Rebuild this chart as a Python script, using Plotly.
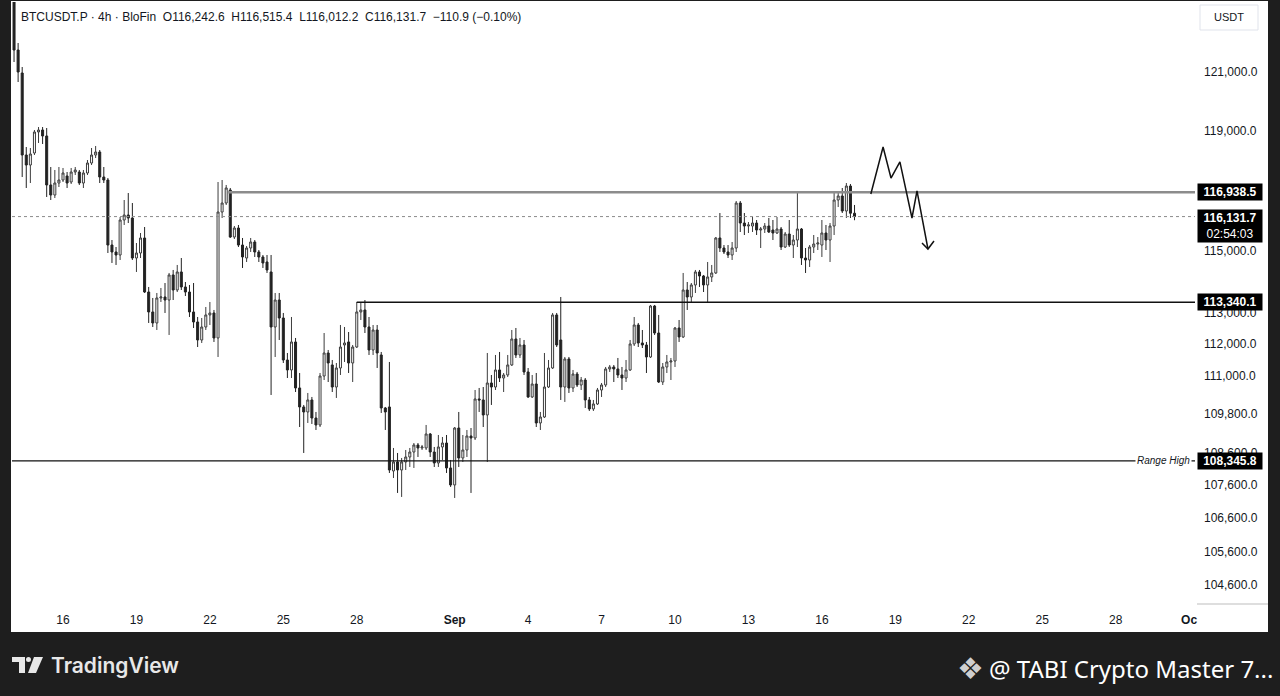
import math
import pandas as pd
import plotly.graph_objects as go

# ---------------- data ----------------
start_time = "2025-08-14 00:00"   # first visible 4h candle

opens = [123700, 121758, 120966, 118181, 117846, 118248, 118956, 119023, 118821, 117179,
         116846, 117245, 117345, 117479, 117278, 117612, 117612, 117245, 117579, 117913,
         118181, 118282, 117445, 117345, 115198, 114970, 114872, 116019, 116184, 116085,
         114774, 114937, 115428, 113671, 113028, 112675, 113478, 113510, 113413, 114222,
         113736, 114319, 113833, 113671, 113028, 112707, 112132, 112547, 112932, 112996,
         112196, 116283, 116581, 117012, 115460, 115756, 115198, 114774, 115100, 115297,
         114970, 114807, 114644, 114319, 112547, 113413, 112835, 111497, 111181, 112069,
         110614, 110019, 109863, 110238, 109675, 109458, 110991, 111719, 111339, 110645,
         111244, 111973, 112069, 111402, 111909, 113028, 113092, 112547, 111814, 112451,
         111656, 109988, 110019, 108037, 108314, 108068, 108314, 108467, 108621, 108838,
         108745, 108745, 109178, 108621, 108283, 108776, 108899, 108129, 107609, 109364,
         108437, 108683, 109116, 109054, 110269, 110238, 109769, 110771, 110645, 111181,
         110928, 111023, 111339, 112164, 111656, 111973, 111118, 110332, 110739, 109520,
         109706, 110645, 111244, 112932, 112132, 110645, 111529, 110614, 111054, 110708,
         110865, 110238, 109957, 110113, 110551, 110708, 111213, 111276, 111213, 111023,
         110928, 111181, 112005, 112611, 112037, 111973, 111592, 113220, 112355, 110802,
         111276, 111434, 111465, 112515, 112228, 113736, 113510, 113898, 114319, 114189,
         113898, 114157, 114287, 115428, 115100, 114970, 114872, 115100, 116581, 115920,
         115822, 115822, 115920, 115690, 115723, 115822, 115690, 115592, 115723, 115133,
         115559, 115198, 115362, 115723, 114774, 114709, 115133, 115231, 115198, 115592,
         115362, 115822, 116680, 116813, 116316, 117145, 116242.6]

highs = [124100, 122001, 121172, 118450, 118416, 119023, 119124, 119124, 119091, 117779,
         117679, 117779, 117746, 117612, 117746, 117779, 117679, 117679, 118013, 118416,
         118484, 118349, 117779, 117412, 115362, 115133, 116118, 116680, 116912, 116581,
         115264, 115592, 115789, 113833, 113478, 113639, 113801, 113962, 114287, 114384,
         114547, 114774, 113994, 113898, 113962, 112867, 112835, 113188, 113349, 113092,
         117278, 117345, 117179, 117079, 115822, 115855, 115428, 115166, 115428, 115362,
         115035, 114872, 114872, 114872, 113639, 113639, 112996, 111719, 112867, 112196,
         111086, 110082, 110457, 110332, 109863, 111086, 112355, 111814, 111497, 111402,
         112611, 112547, 112387, 111973, 113349, 113317, 113413, 112867, 112611, 112611,
         111751, 110019, 111434, 108745, 108591, 108437, 108683, 108745, 108899, 108899,
         108838, 109458, 109209, 108776, 109147, 109085, 109147, 108375, 109395, 109863,
         109147, 109302, 109364, 110551, 110614, 110645, 111719, 111023, 111656, 111751,
         111086, 111656, 112451, 112515, 112196, 112132, 111244, 111023, 111086, 109863,
         111719, 111497, 112996, 112996, 113510, 111592, 111592, 111181, 111118, 110960,
         110928, 110332, 110238, 110614, 110771, 111276, 111339, 111339, 111561, 111276,
         111497, 112132, 112867, 112675, 112451, 112069, 113253, 113253, 112932, 111402,
         111656, 111561, 112547, 112771, 114287, 113994, 113962, 114384, 114384, 114222,
         114644, 114547, 115460, 116250, 115198, 115198, 115297, 116647, 116647, 116250,
         115953, 116118, 116019, 115789, 115920, 116085, 116019, 116118, 115789, 115625,
         116019, 115526, 116912, 115756, 115100, 115198, 115526, 115460, 116019, 115855,
         115920, 116912, 116946, 117079, 117245, 117212, 116515.4]

lows = [121344, 120657, 117445, 117079, 117245, 118181, 118585, 118551, 116780, 116680,
        116746, 117112, 117278, 117079, 117212, 117512, 117179, 117079, 117512, 117846,
        118080, 117245, 117245, 114937, 114612, 114547, 114709, 115855, 115920, 114709,
        114319, 114774, 113639, 112675, 112547, 112451, 113349, 112996, 112292, 113413,
        113671, 113736, 113542, 112867, 112515, 111909, 112037, 112451, 112611, 112069,
        111592, 116085, 116515, 115428, 115395, 115133, 114449, 114644, 114970, 114807,
        114644, 114449, 114287, 110394, 111592, 112132, 111402, 110928, 110928, 110488,
        109395, 108591, 109520, 109489, 109302, 109395, 110865, 110802, 110488, 110301,
        111023, 111434, 111086, 110802, 111877, 112771, 112355, 111656, 111656, 111244,
        109832, 109302, 107976, 107822, 107365, 107243, 108068, 108160, 108129, 108467,
        108683, 108683, 108467, 108160, 108160, 108375, 107976, 107548, 107212, 108160,
        108314, 108467, 107365, 108992, 109863, 109395, 108314, 110082, 110551, 110802,
        110488, 110960, 111307, 111561, 111561, 111023, 110301, 110301, 109395, 109302,
        109675, 110614, 111213, 111909, 110238, 110176, 110457, 110488, 110645, 110551,
        109988, 109894, 109894, 110082, 110332, 110645, 111118, 110802, 110928, 110551,
        110802, 111149, 111941, 111909, 111877, 111086, 111561, 112292, 110771, 110708,
        111086, 110865, 111276, 112069, 112196, 113092, 113349, 113639, 113833, 113671,
        113349, 113994, 114254, 114970, 114904, 114774, 114709, 114970, 115625, 115526,
        115592, 115625, 115526, 115100, 115592, 115592, 115362, 115559, 115035, 115100,
        115133, 114774, 115133, 114547, 114287, 114482, 114937, 115035, 114807, 115035,
        114644, 115526, 116448, 116250, 116085, 116085, 116012.2]

closes = [121758, 121000, 118181, 117846, 118215, 118956, 119023, 118821, 117179, 116846,
          117245, 117345, 117579, 117245, 117612, 117679, 117245, 117579, 117913, 118181,
          118282, 117445, 117345, 115198, 114970, 114872, 116019, 116184, 116085, 114774,
          114937, 115428, 113671, 113028, 112675, 113478, 113510, 113413, 114222, 113736,
          114319, 113833, 113671, 113028, 112707, 112132, 112547, 112932, 112996, 112196,
          116283, 116581, 117079, 115460, 115756, 115198, 114807, 115100, 115297, 114970,
          114807, 114612, 114384, 112547, 113413, 112835, 111497, 111181, 112069, 110614,
          110019, 109863, 110238, 109675, 109458, 110991, 111719, 111402, 110645, 111244,
          111909, 112037, 111402, 111909, 113028, 113092, 112547, 111814, 112451, 111719,
          109988, 109863, 108068, 108314, 108068, 108314, 108467, 108621, 108838, 108745,
          108776, 109178, 108621, 108283, 108776, 108899, 108129, 107609, 109364, 108437,
          108683, 109116, 109054, 110269, 110238, 109769, 110771, 110645, 111181, 110928,
          111023, 111339, 112164, 111656, 111973, 111118, 110332, 110739, 109520, 109706,
          110645, 111244, 112932, 111973, 110645, 111529, 110614, 111054, 110708, 110865,
          110238, 109957, 110113, 110551, 110708, 111213, 111276, 111213, 111023, 110928,
          111181, 112005, 112611, 112037, 111973, 111592, 113220, 112355, 110802, 111276,
          111434, 111465, 112515, 112228, 113736, 113510, 113898, 114319, 114189, 113898,
          114157, 114287, 115428, 115100, 114970, 114872, 115100, 116581, 115920, 115822,
          115855, 115920, 115690, 115723, 115822, 115625, 115592, 115723, 115133, 115559,
          115198, 115362, 115723, 114774, 114709, 115133, 115231, 115264, 115592, 115362,
          115822, 116680, 116813, 116316, 117145, 116242.6, 116131.7]

times = pd.date_range(start_time, periods=len(opens), freq="4h")

# horizontal levels
resistance_level = 116938.5
resistance_start = "2025-08-22 18:00"
support_level = 113340.1
support_start = "2025-08-28 00:00"
range_high_level = 108345.8
last_price = 116131.7
countdown = "02:54:03"

# hand-drawn projection path
forecast_times = ["2025-09-18 00:00", "2025-09-18 12:00", "2025-09-18 19:45", "2025-09-19 04:30",
                  "2025-09-19 16:20", "2025-09-19 21:15", "2025-09-20 08:00"]
forecast_prices = [116880, 118450, 117410, 117950, 116085, 116980, 115068]
arrow_times = ["2025-09-20 02:10", "2025-09-20 08:00", "2025-09-20 13:55"]
arrow_prices = [115264, 115068, 115330]

# axes
x_range = ["2025-08-13 22:00", "2025-10-01 05:48"]
y_range = [104061, 123430]
date_ticks = ["2025-08-16", "2025-08-19", "2025-08-22", "2025-08-25", "2025-08-28", "2025-09-01",
              "2025-09-04", "2025-09-07", "2025-09-10", "2025-09-13", "2025-09-16", "2025-09-19",
              "2025-09-22", "2025-09-25", "2025-09-28", "2025-10-01"]
date_labels = ["16", "19", "22", "25", "28", "<b>Sep</b>", "4", "7", "10", "13", "16", "19",
               "22", "25", "28", "<b>Oc</b>"]
price_ticks = [121000, 119000, 117000, 115000, 113000, 112000, 111000, 109800, 108600,
               107600, 106600, 105600, 104600]

header = ("BTCUSDT.P · 4h · BloFin\u00a0\u00a0O116,242.6\u00a0\u00a0H116,515.4\u00a0\u00a0"
          "L116,012.2\u00a0\u00a0C116,131.7\u00a0\u00a0−110.9 (−0.10%)")

# ---------------- figure ----------------
W, H = 1280, 696
ML, MR, MT, MB = 12, 85, 2, 93
PW, PH = W - ML - MR, H - MT - MB


def px(X):
    return (X - ML) / PW


def py(Y):
    return (H - MB - Y) / PH


TEXT = "#131722"
NARROW = "Liberation Sans Narrow, Arial Narrow, Liberation Sans, Arial, sans-serif"
SANS = "Liberation Sans, Arial, sans-serif"

fig = go.Figure()

fig.add_trace(go.Candlestick(
    x=times, open=opens, high=highs, low=lows, close=closes,
    increasing=dict(line=dict(color="#3c3c3c", width=1), fillcolor="#ffffff"),
    decreasing=dict(line=dict(color="#222222", width=1), fillcolor="#222222"),
    whiskerwidth=0, showlegend=False, hoverinfo="skip"))

# dotted last-price line
fig.add_trace(go.Scatter(x=x_range, y=[last_price, last_price], mode="lines",
                         line=dict(color="#8a8a8a", width=1, dash="dot"), hoverinfo="skip"))
# resistance
fig.add_trace(go.Scatter(x=[resistance_start, x_range[1]], y=[resistance_level] * 2, mode="lines",
                         line=dict(color="#8c8c8c", width=2.5), hoverinfo="skip"))
# support
fig.add_trace(go.Scatter(x=[support_start, x_range[1]], y=[support_level] * 2, mode="lines",
                         line=dict(color="#111111", width=1.6), hoverinfo="skip"))
# range high
fig.add_trace(go.Scatter(x=x_range, y=[range_high_level] * 2, mode="lines",
                         line=dict(color="#111111", width=1.3), hoverinfo="skip"))
# projection
fig.add_trace(go.Scatter(x=forecast_times, y=forecast_prices, mode="lines",
                         line=dict(color="#111111", width=1.5), hoverinfo="skip"))
fig.add_trace(go.Scatter(x=arrow_times, y=arrow_prices, mode="lines",
                         line=dict(color="#111111", width=1.5), hoverinfo="skip"))

shapes = [
    # white chart pane on dark frame
    dict(type="rect", xref="paper", yref="paper", x0=px(11), x1=px(1268), y0=py(632), y1=py(1),
         fillcolor="#ffffff", line=dict(width=0), layer="below"),
    # price-scale / time-scale corner separator
    dict(type="line", xref="paper", yref="paper", x0=px(1197), x1=px(1268), y0=py(604), y1=py(604),
         line=dict(color="#bdbdbd", width=1)),
    # USDT box
    dict(type="rect", xref="paper", yref="paper", x0=px(1200), x1=px(1258), y0=py(30), y1=py(5),
         fillcolor="#ffffff", line=dict(color="#e0e3eb", width=1)),
    # TradingView logo
    dict(type="path", xref="paper", yref="paper",
         path=(f"M {px(12)} {py(657)} L {px(25)} {py(657)} L {px(25)} {py(673)} L {px(19)} {py(673)} "
               f"L {px(19)} {py(662)} L {px(12)} {py(662)} Z"),
         fillcolor="#e8e8e8", line=dict(width=0)),
    dict(type="circle", xref="paper", yref="paper", x0=px(26), x1=px(31), y0=py(662), y1=py(657),
         fillcolor="#e8e8e8", line=dict(width=0)),
    dict(type="path", xref="paper", yref="paper",
         path=(f"M {px(34)} {py(657)} L {px(43)} {py(657)} L {px(36)} {py(673)} L {px(28)} {py(673)} Z"),
         fillcolor="#e8e8e8", line=dict(width=0)),
]

annotations = [
    dict(xref="paper", yref="paper", x=px(19), y=py(17), xanchor="left", yanchor="middle",
         text=header, showarrow=False, font=dict(family=SANS, size=12, color=TEXT)),
    dict(xref="paper", yref="paper", x=px(1229), y=py(17), xanchor="center", yanchor="middle",
         text="USDT", showarrow=False, font=dict(family=SANS, size=11, color=TEXT)),
    # level labels on price scale
    dict(xref="paper", yref="y", x=1, y=math.log10(resistance_level), xanchor="left", yanchor="middle",
         xshift=2, text=f"<b>{resistance_level:,.1f}</b>", showarrow=False, bgcolor="#000000",
         width=62, height=14, borderpad=1, font=dict(family=SANS, size=12, color="#ffffff")),
    dict(xref="paper", yref="y", x=1, y=math.log10(support_level), xanchor="left", yanchor="middle",
         xshift=2, text=f"<b>{support_level:,.1f}</b>", showarrow=False, bgcolor="#000000",
         width=62, height=14, borderpad=1, font=dict(family=SANS, size=12, color="#ffffff")),
    dict(xref="paper", yref="y", x=1, y=math.log10(range_high_level), xanchor="left", yanchor="middle",
         xshift=2, text=f"<b>{range_high_level:,.1f}</b>", showarrow=False, bgcolor="#000000",
         width=62, height=14, borderpad=1, font=dict(family=SANS, size=12, color="#ffffff")),
    dict(xref="paper", yref="y", x=1, y=math.log10(last_price), xanchor="left", yanchor="top",
         xshift=2, yshift=8, text=f"<b>{last_price:,.1f}</b><br>{countdown}", showarrow=False,
         bgcolor="#000000", width=62, height=30, borderpad=1,
         font=dict(family=SANS, size=12, color="#ffffff")),
    dict(xref="paper", yref="y", x=px(1163), y=math.log10(range_high_level), xanchor="center",
         yanchor="middle", text="<i>Range High</i>", showarrow=False, bgcolor="#ffffff",
         borderpad=1, font=dict(family=SANS, size=10, color=TEXT)),
    # footer
    dict(xref="paper", yref="paper", x=px(49), y=py(665), xanchor="left", yanchor="middle",
         text="TradingView", showarrow=False,
         font=dict(family="Inter, Lato, sans-serif", size=21, color="#e8e8e8", weight=600)),
    dict(xref="paper", yref="paper", x=px(970), y=py(669), xanchor="center", yanchor="middle",
         text="❖", showarrow=False, font=dict(family="DejaVu Sans", size=30, color="#cfcfcf")),
    dict(xref="paper", yref="paper", x=px(987), y=py(669), xanchor="left", yanchor="middle",
         text="@ TABI Crypto Master 7...", showarrow=False,
         font=dict(family="Noto Sans, Open Sans, sans-serif", size=24, color="#ffffff")),
]

fig.update_layout(
    width=W, height=H,
    margin=dict(l=ML, r=MR, t=MT, b=MB),
    paper_bgcolor="#1e1e1e",
    plot_bgcolor="#ffffff",
    showlegend=False,
    hovermode=False,
    shapes=shapes,
    annotations=annotations,
    xaxis=dict(type="date", range=x_range, rangeslider=dict(visible=False), showgrid=False,
               zeroline=False, showline=False, ticks="", tickvals=date_ticks, ticktext=date_labels,
               tickfont=dict(family=NARROW, size=12, color=TEXT), ticklabelstandoff=8),
    yaxis=dict(type="log", side="right", range=[math.log10(y_range[0]), math.log10(y_range[1])],
               showgrid=False, zeroline=False, showline=False, ticks="",
               tickvals=price_ticks, ticktext=[f"{v:,.1f}" for v in price_ticks],
               tickfont=dict(family=SANS, size=12, color=TEXT), ticklabelstandoff=8),
)

fig.write_html("out.html", config={"displayModeBar": False},
               post_script="document.body.style.margin='0';document.body.style.overflow='hidden';")
